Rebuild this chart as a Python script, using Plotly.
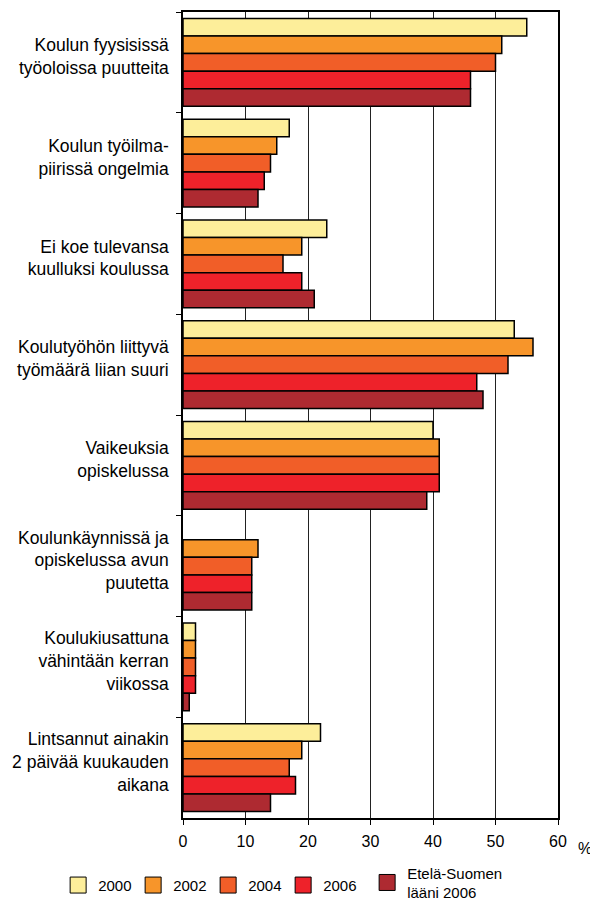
import plotly.graph_objects as go

categories = [
    "Koulun fyysisissä<br>työoloissa puutteita",
    "Koulun työilma-<br>piirissä ongelmia",
    "Ei koe tulevansa<br>kuulluksi koulussa",
    "Koulutyöhön liittyvä<br>työmäärä liian suuri",
    "Vaikeuksia<br>opiskelussa",
    "Koulunkäynnissä ja<br>opiskelussa avun<br>puutetta",
    "Koulukiusattuna<br>vähintään kerran<br>viikossa",
    "Lintsannut ainakin<br>2 päivää kuukauden<br>aikana",
]

series_names = ["2000", "2002", "2004", "2006", "Etelä-Suomen<br>lääni 2006"]
v2000 = [55, 17, 23, 53, 40, None, 2, 22]
v2002 = [51, 15, 19, 56, 41, 12, 2, 19]
v2004 = [50, 14, 16, 52, 41, 11, 2, 17]
v2006 = [46, 13, 19, 47, 41, 11, 2, 18]
v_es = [46, 12, 21, 48, 39, 11, 1, 14]
series_values = [v2000, v2002, v2004, v2006, v_es]
colors = ["#FDEE9A", "#F7952A", "#F15E28", "#EE222A", "#AE2A31"]

x_ticks = [0, 10, 20, 30, 40, 50, 60]

fig = go.Figure()
for name, vals, col in zip(series_names, series_values, colors):
    fig.add_trace(go.Bar(
        y=categories, x=vals, name=name, orientation="h",
        marker=dict(color=col, line=dict(color="black", width=1.5)),
        showlegend=False,
    ))

# legend entries (square swatches)
for i, (name, col) in enumerate(zip(series_names, colors)):
    fig.add_trace(go.Scatter(
        x=[None], y=[None], mode="markers", name=name,
        marker=dict(symbol="square", size=16, color=col,
                    line=dict(color="black", width=1)),
        legend="legend" if i < 4 else "legend2",
        showlegend=True,
    ))

font_family = "Liberation Sans, Arial, sans-serif"

# page body has an 8px margin, so the figure is 8px smaller and offsets shifted
fig.update_layout(
    width=590, height=905,
    margin=dict(l=175, r=40, t=4, b=95, autoexpand=False),
    barmode="group", bargap=0.13, bargroupgap=0,
    plot_bgcolor="white", paper_bgcolor="white",
    font=dict(family=font_family, size=15, color="black"),
    legend=dict(
        orientation="h", x=-0.333, xanchor="left", y=-0.0835, yanchor="middle",
        font=dict(size=15), traceorder="normal", itemclick=False,
        bgcolor="rgba(0,0,0,0)", entrywidth=30,
    ),
    legend2=dict(
        orientation="h", x=0.491, xanchor="left", y=-0.08, yanchor="middle",
        font=dict(size=15), itemclick=False, bgcolor="rgba(0,0,0,0)",
    ),
    xaxis=dict(
        range=[0, 60], tickvals=x_ticks, ticktext=[str(t) for t in x_ticks],
        showgrid=True, gridcolor="#222222", gridwidth=1,
        showline=True, linecolor="black", linewidth=1.5, mirror=True,
        ticks="outside", ticklen=5, tickcolor="black",
        tickfont=dict(size=16), zeroline=False, fixedrange=True,
        ticklabelstandoff=3,
    ),
    yaxis=dict(
        autorange="reversed", categoryorder="array", categoryarray=categories,
        showline=True, linecolor="black", linewidth=1.5, mirror=True,
        ticks="outside", ticklen=5, tickcolor="black", tickson="boundaries",
        tickfont=dict(size=17.5), showgrid=False, ticklabelstandoff=9,
        ticklabelshift=6, fixedrange=True,
    ),
    annotations=[dict(
        text="%", xref="paper", yref="paper", x=1.0, y=0, xanchor="left",
        yanchor="top", xshift=18, yshift=-20, showarrow=False,
        font=dict(size=16),
    )],
)

fig.write_html("out.html")
